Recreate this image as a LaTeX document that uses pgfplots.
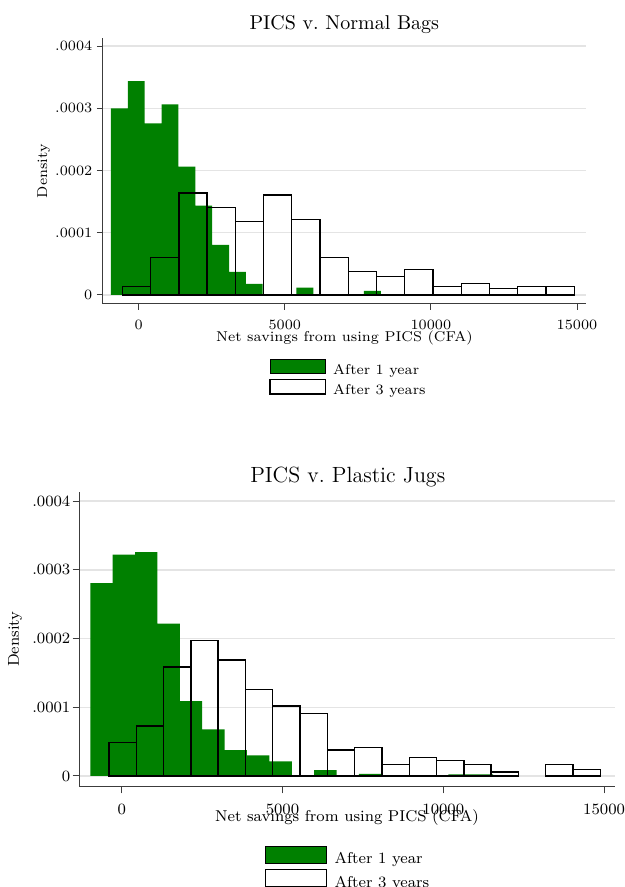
\documentclass[border=0pt]{standalone}
\usepackage{pgfplots}
\pgfplotsset{compat=1.18}
\definecolor{stgreen}{RGB}{0,128,0}
\definecolor{axisgray}{RGB}{60,60,60}
\definecolor{gridgray}{RGB}{228,228,228}
\pgfplotsset{
  stbase/.style={
    scale only axis, clip=false,
    axis x line*=bottom, axis y line*=left,
    axis line style={draw=axisgray, line width=0.5pt},
    tick align=outside,
    tick style={draw=axisgray, line width=0.5pt},
    scaled ticks=false,
    xtick={0,5000,10000,15000}, xticklabels={0,5000,10000,15000},
    ytick={0,0.0001,0.0002,0.0003,0.0004},
    yticklabels={0,.0001,.0002,.0003,.0004},
    minor tick num=0,
    ymajorgrids, grid style={draw=gridgray, line width=0.7pt},
    ylabel={Density}, xlabel={Net savings from using PICS (CFA)},
  },
  greenbars/.style={ybar, bar shift=0pt, bar width=#1, fill=stgreen, draw=none, forget plot},
  whitebars/.style={ybar, bar shift=0pt, bar width=#1, fill=none, draw=black, line width=0.7pt, forget plot},
}
\begin{document}
\begin{tikzpicture}
\path[use as bounding box] (0,0) rectangle (312.5pt,443.5pt);
% ---------------- top panel
\begin{axis}[stbase,
  at={(51.35pt,291.5pt)}, anchor=south west,
  width=241.65pt, height=133pt,
  xmin=-1232, xmax=15308, ymin=-0.0000145, ymax=0.0004132,
  major tick length=2.9pt,
  ticklabel style={font=\fontsize{7.13}{8}\selectfont},
  yticklabel style={anchor=east, inner sep=0pt, xshift=-2.1pt},
  xticklabel style={anchor=base, inner sep=0pt, yshift=-10.1pt},
  label style={font=\fontsize{7.13}{8}\selectfont, inner sep=0pt},
  xlabel style={at={(axis description cs:0.5,0)}, anchor=base, yshift=-18.6pt},
  ylabel style={at={(axis description cs:-0.1221,0.5)}, anchor=center},
  title={PICS v.\ Normal Bags},
  title style={at={(axis description cs:0.4999,1)}, anchor=base, yshift=-1.65pt, inner sep=0pt, font=\fontsize{10}{12}\selectfont},
  legend image code/.code={\draw[#1] (0pt,0.3pt) rectangle (27.85pt,7.45pt);},
  legend style={at={(axis description cs:0.3447,-0.2068)}, anchor=north west,
    draw=none, fill=none, inner sep=0pt, outer sep=0pt, row sep=0.75pt,
    font=\fontsize{7.13}{8}\selectfont,
    nodes={inner sep=0pt, anchor=base west},
    /tikz/every odd column/.append style={column sep=3.4pt}},
]
\addplot[greenbars=577] coordinates {
(-659.5,0.000300) (-82.5,0.000344) (494.5,0.000276) (1071.5,0.0003065)
(1648.5,0.0002065) (2225.5,0.0001435) (2802.5,0.0000806) (3379.5,0.0000371)
(3956.5,0.0000177) (5687.5,0.0000120) (7995.5,0.0000065)};
\addplot[whitebars=966.7] coordinates {
(-77.65,0.0000140) (889.05,0.0000602) (1855.75,0.0001640) (2822.45,0.0001410)
(3789.15,0.0001177) (4755.85,0.0001605) (5722.55,0.0001216) (6689.25,0.0000601)
(7655.95,0.0000373) (8622.65,0.0000296) (9589.35,0.0000413) (10556.05,0.0000139)
(11522.75,0.0000182) (12489.45,0.0000107) (13456.15,0.0000139) (14422.85,0.0000139)};
\addlegendimage{fill=stgreen, draw=none}
\addlegendentry{After 1 year}
\addlegendimage{fill=white, draw=black, line width=0.7pt}
\addlegendentry{After 3 years}
\end{axis}
% ---------------- bottom panel
\begin{axis}[stbase,
  at={(39.65pt,50.15pt)}, anchor=south west,
  width=267.85pt, height=147.5pt,
  xmin=-1318, xmax=15339, ymin=-0.0000156, ymax=0.0004138,
  major tick length=3.3pt,
  ticklabel style={font=\fontsize{7.86}{9}\selectfont},
  yticklabel style={anchor=east, inner sep=0pt, xshift=-1pt},
  xticklabel style={anchor=base, inner sep=0pt, yshift=-10.5pt},
  label style={font=\fontsize{7.86}{9}\selectfont, inner sep=0pt},
  xlabel style={at={(axis description cs:0.4997,0)}, anchor=base, yshift=-17.2pt},
  ylabel style={at={(axis description cs:-0.12003,0.5)}, anchor=center},
  title={PICS v.\ Plastic Jugs},
  title style={at={(axis description cs:0.5012,1)}, anchor=base, yshift=-1.3pt, inner sep=0pt, font=\fontsize{11}{13}\selectfont},
  legend image code/.code={\draw[#1] (0pt,0.3pt) rectangle (30.5pt,8.65pt);},
  legend style={at={(axis description cs:0.3466,-0.2010)}, anchor=north west,
    draw=none, fill=none, inner sep=0pt, outer sep=0pt, row sep=1.2pt,
    font=\fontsize{7.86}{9}\selectfont,
    nodes={inner sep=0pt, anchor=base west},
    /tikz/every odd column/.append style={column sep=3.6pt}},
]
\addplot[greenbars=696] coordinates {
(-628,0.0002806) (68,0.0003222) (764,0.0003260) (1460,0.0002216)
(2156,0.0001089) (2852,0.0000677) (3548,0.0000377) (4244,0.0000300)
(4940,0.0000211) (6332,0.0000085) (7724,0.0000030) (10508,0.0000025)
(11204,0.0000025)};
\addplot[whitebars=848.7] coordinates {
(29.35,0.0000484) (878.05,0.0000730) (1726.75,0.0001587) (2575.45,0.0001969)
(3424.15,0.0001688) (4272.85,0.0001263) (5121.55,0.0001018) (5970.25,0.0000913)
(6818.95,0.0000379) (7667.65,0.0000415) (8516.35,0.0000166) (9365.05,0.0000268)
(10213.75,0.0000229) (11062.45,0.0000166) (11911.15,0.0000059)
(13608.55,0.0000166) (14457.25,0.0000093)};
\addlegendimage{fill=stgreen, draw=none}
\addlegendentry{After 1 year}
\addlegendimage{fill=white, draw=black, line width=0.7pt}
\addlegendentry{After 3 years}
\end{axis}
\end{tikzpicture}
\end{document}
